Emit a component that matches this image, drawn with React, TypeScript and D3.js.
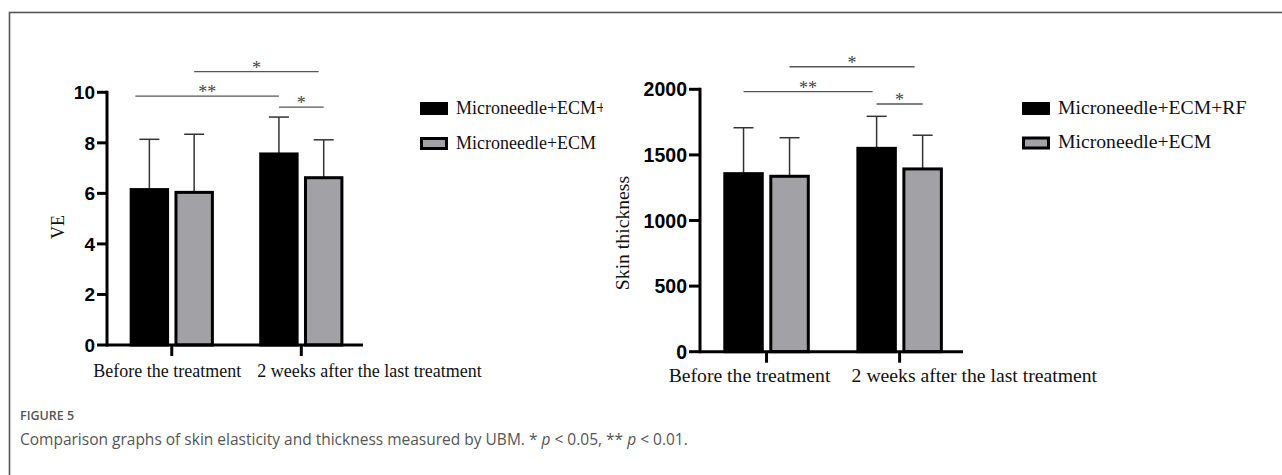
import { useEffect, useRef } from 'react';
import * as d3 from 'd3';

const groups = ['Before the treatment', '2 weeks after the last treatment'];
const seriesNames = ['Microneedle+ECM+RF', 'Microneedle+ECM'];

// VE (skin elasticity)
const veRF = [6.15, 7.56];
const veECM = [6.04, 6.62];
const veRFsd = [1.99, 1.46];
const veECMsd = [2.3, 1.5];
const veTicks = [0, 2, 4, 6, 8, 10];

// Skin thickness
const thRF = [1357, 1550];
const thECM = [1337, 1393];
const thRFsd = [350, 244];
const thECMsd = [294, 257];
const thTicks = [0, 500, 1000, 1500, 2000];

// significance brackets: [group, series] -> [group, series]
const veSig = [
  { a: [0, 0], b: [1, 0], y: 9.85, label: '**' },
  { a: [0, 1], b: [1, 1], y: 10.82, label: '*' },
  { a: [1, 0], b: [1, 1], y: 9.41, label: '*' },
];
const thSig = [
  { a: [0, 0], b: [1, 0], y: 1982, label: '**' },
  { a: [0, 1], b: [1, 1], y: 2172, label: '*' },
  { a: [1, 0], b: [1, 1], y: 1888, label: '*' },
];

const colors = ['#000000', '#a2a2a6'];
const SERIF = '"Liberation Serif", "Times New Roman", serif';
const SANS = '"Liberation Sans", Arial, sans-serif';

type Panel = {
  means: number[][];
  sds: number[][];
  ticks: number[];
  domain: [number, number];
  sig: { a: number[]; b: number[]; y: number; label: string }[];
  yLabel: string;
  // layout
  x0: number;
  x1: number;
  yTop: number;
  yBottom: number;
  tickLen: number;
  tickFont: number;
  textFont: number;
  yLabelX: number;
  yLabelY: number;
  labelDx: [number, number];
  labelY: number;
  sigInset: [number, number][];
  legendX: number;
  legendY: number;
  legendGap: number;
  clipX: number | null;
};

const panels: Panel[] = [
  {
    means: [veRF, veECM],
    sds: [veRFsd, veECMsd],
    ticks: veTicks,
    domain: [0, 10],
    sig: veSig,
    yLabel: 'VE',
    x0: 107,
    x1: 363,
    yTop: 92.3,
    yBottom: 345,
    tickLen: 10,
    tickFont: 19,
    textFont: 18,
    yLabelX: 64,
    yLabelY: 227,
    labelDx: [-4.5, -44],
    labelY: 377,
    sigInset: [
      [-14, 0],
      [0, -5],
      [0, 0],
    ],
    legendX: 420,
    legendY: 102,
    legendGap: 35,
    clipX: 603,
  },
  {
    means: [thRF, thECM],
    sds: [thRFsd, thECMsd],
    ticks: thTicks,
    domain: [0, 2000],
    sig: thSig,
    yLabel: 'Skin thickness',
    x0: 700,
    x1: 963,
    yTop: 89.3,
    yBottom: 351.7,
    tickLen: 11,
    tickFont: 19.5,
    textFont: 19.7,
    yLabelX: 629,
    yLabelY: 233,
    labelDx: [-17, -48],
    labelY: 382,
    sigInset: [
      [0, -4],
      [0, -8],
      [0, 0],
    ],
    legendX: 1022,
    legendY: 102,
    legendGap: 34.5,
    clipX: null,
  },
];

function drawPanel(svg: d3.Selection<SVGSVGElement, unknown, null, undefined>, p: Panel, idx: number) {
  const g = svg.append('g');

  const x = d3
    .scaleBand()
    .domain(groups)
    .range([p.x0, p.x0 + (p.x1 - p.x0) * 1.012])
    .paddingInner(0.35)
    .paddingOuter(0.175);

  const xs = d3
    .scaleBand()
    .domain(seriesNames)
    .range([0, x.bandwidth()])
    .paddingInner(0.12);

  const y = d3.scaleLinear().domain(p.domain).range([p.yBottom, p.yTop]);

  const barCenter = (gi: number, si: number) =>
    (x(groups[gi]) as number) + (xs(seriesNames[si]) as number) + xs.bandwidth() / 2;

  // significance brackets
  p.sig.forEach((s, i) => {
    const xa = barCenter(s.a[0], s.a[1]) + p.sigInset[i][0];
    const xb = barCenter(s.b[0], s.b[1]) + p.sigInset[i][1];
    g.append('line')
      .attr('x1', xa)
      .attr('x2', xb)
      .attr('y1', y(s.y))
      .attr('y2', y(s.y))
      .attr('stroke', '#555')
      .attr('stroke-width', 1.3);
    g.append('text')
      .attr('x', (xa + xb) / 2)
      .attr('y', y(s.y) + 2)
      .attr('text-anchor', 'middle')
      .attr('font-family', SERIF)
      .attr('font-size', 18)
      .attr('fill', '#444')
      .text(s.label);
  });

  // error bars (upper half only)
  seriesNames.forEach((name, si) => {
    groups.forEach((grp, gi) => {
      const cx = barCenter(gi, si);
      const top = y(p.means[si][gi] + p.sds[si][gi]);
      g.append('line')
        .attr('x1', cx)
        .attr('x2', cx)
        .attr('y1', y(p.means[si][gi]))
        .attr('y2', top)
        .attr('stroke', '#333')
        .attr('stroke-width', 1.5);
      g.append('line')
        .attr('x1', cx - 10)
        .attr('x2', cx + 10)
        .attr('y1', top)
        .attr('y2', top)
        .attr('stroke', '#333')
        .attr('stroke-width', 1.5);
    });
  });

  // bars
  g.append('g')
    .selectAll('g')
    .data(groups)
    .join('g')
    .attr('transform', (d) => `translate(${x(d)},0)`)
    .selectAll('rect')
    .data((d, gi) => seriesNames.map((name, si) => ({ name, si, value: p.means[si][gi] })))
    .join('rect')
    .attr('x', (d) => (xs(d.name) as number) + 1.5)
    .attr('y', (d) => y(d.value))
    .attr('width', xs.bandwidth() - 3)
    .attr('height', (d) => y(0) - y(d.value))
    .attr('fill', (d) => colors[d.si])
    .attr('stroke', '#000')
    .attr('stroke-width', 3);

  // y axis
  const yAxis = g.append('g').attr('transform', `translate(${p.x0},0)`);
  yAxis
    .append('line')
    .attr('x1', 0)
    .attr('x2', 0)
    .attr('y1', y(p.domain[0]) + 1.5)
    .attr('y2', y(p.domain[1]) - 1.5)
    .attr('stroke', '#000')
    .attr('stroke-width', 3);
  const yt = yAxis
    .selectAll('g.tick')
    .data(p.ticks)
    .join('g')
    .attr('class', 'tick')
    .attr('transform', (d) => `translate(0,${y(d)})`);
  yt.append('line').attr('x1', -p.tickLen).attr('x2', 0).attr('stroke', '#000').attr('stroke-width', 3);
  yt.append('text')
    .attr('x', -p.tickLen - 2)
    .attr('dy', '0.36em')
    .attr('text-anchor', 'end')
    .attr('font-family', SANS)
    .attr('font-weight', 'bold')
    .attr('font-size', p.tickFont)
    .attr('fill', '#000')
    .text((d) => `${d}`);

  // x axis
  const xAxis = g.append('g').attr('transform', `translate(0,${y(0)})`);
  xAxis
    .append('line')
    .attr('x1', p.x0)
    .attr('x2', p.x1)
    .attr('stroke', '#000')
    .attr('stroke-width', 3);
  groups.forEach((grp, gi) => {
    const cx = (x(grp) as number) + x.bandwidth() / 2;
    xAxis.append('line').attr('x1', cx).attr('x2', cx).attr('y1', 0).attr('y2', 11).attr('stroke', '#000').attr('stroke-width', 3);
    xAxis
      .append('text')
      .attr('x', cx + p.labelDx[gi])
      .attr('y', p.labelY - y(0))
      .attr('text-anchor', gi === 0 ? 'middle' : 'start')
      .attr('font-family', SERIF)
      .attr('font-size', p.textFont)
      .attr('fill', '#111')
      .text(grp);
  });

  // y label
  g.append('text')
    .attr('transform', `translate(${p.yLabelX},${p.yLabelY}) rotate(-90)`)
    .attr('text-anchor', 'middle')
    .attr('font-family', SERIF)
    .attr('font-size', p.textFont)
    .attr('fill', '#111')
    .text(p.yLabel);

  // legend
  const legend = g.append('g');
  if (p.clipX !== null) {
    const id = `legclip${idx}`;
    svg
      .append('defs')
      .append('clipPath')
      .attr('id', id)
      .append('rect')
      .attr('x', 0)
      .attr('y', 0)
      .attr('width', p.clipX)
      .attr('height', 475);
    legend.attr('clip-path', `url(#${id})`);
  }
  seriesNames.forEach((name, si) => {
    const ly = p.legendY + si * p.legendGap;
    legend
      .append('rect')
      .attr('x', p.legendX + 1.5)
      .attr('y', ly + 1.5)
      .attr('width', 25)
      .attr('height', 10)
      .attr('fill', colors[si])
      .attr('stroke', '#000')
      .attr('stroke-width', 3);
    legend
      .append('text')
      .attr('x', p.legendX + 36)
      .attr('y', ly + 11.5)
      .attr('font-family', SERIF)
      .attr('font-size', p.textFont)
      .attr('fill', '#111')
      .text(name);
  });
}

export default function App() {
  const ref = useRef<SVGSVGElement>(null);

  useEffect(() => {
    const svg = d3.select(ref.current as SVGSVGElement);
    svg.selectAll('*').remove();

    // figure frame (open to the right and bottom)
    svg
      .append('rect')
      .attr('x', 9.5)
      .attr('y', 12.5)
      .attr('width', 1400)
      .attr('height', 600)
      .attr('fill', '#fff')
      .attr('stroke', '#555')
      .attr('stroke-width', 1.6);

    panels.forEach((p, i) => drawPanel(svg, p, i));

    // caption
    svg
      .append('text')
      .attr('x', 20)
      .attr('y', 420)
      .attr('font-family', '"Open Sans", sans-serif')
      .attr('font-size', 12.5)
      .attr('font-weight', 600)
      .attr('fill', '#555')
      .text('FIGURE 5');

    const cap = svg
      .append('text')
      .attr('x', 20)
      .attr('y', 445)
      .attr('font-family', '"Open Sans", sans-serif')
      .attr('font-size', 15.5)
      .attr('fill', '#555');
    cap.append('tspan').text('Comparison graphs of skin elasticity and thickness measured by UBM. * ');
    cap.append('tspan').attr('font-style', 'italic').text('p');
    cap.append('tspan').text(' < 0.05, ** ');
    cap.append('tspan').attr('font-style', 'italic').text('p');
    cap.append('tspan').text(' < 0.01.');
  }, []);

  return (
    <svg
      ref={ref}
      width={1282}
      height={475}
      style={{ position: 'absolute', left: 0, top: 0, background: '#fff' }}
    />
  );
}
